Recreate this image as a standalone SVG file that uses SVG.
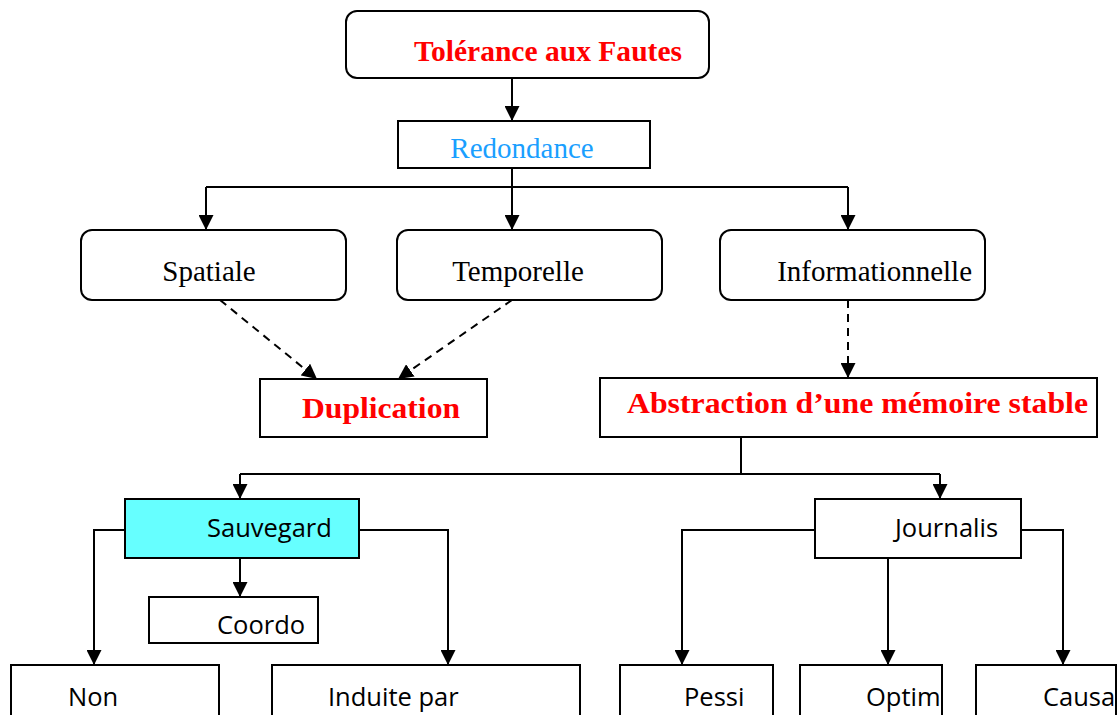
<svg xmlns="http://www.w3.org/2000/svg" width="1118" height="715" viewBox="0 0 1118 715">
  <style>
    .box { fill: #ffffff; stroke: #000000; stroke-width: 2; }
    .cyan { fill: #66ffff; stroke: #000000; stroke-width: 2; }
    .serif { font-family: "Liberation Serif", "Times New Roman", serif; font-size: 29px; }
    .sans { font-family: "Open Sans", "Liberation Sans", sans-serif; font-size: 25.5px; }
    .title { font-weight: bold; fill: #ff0000; }
    .edge { fill: none; stroke: #000000; stroke-width: 2; }
    .dash { stroke-dasharray: 8 6; }
  </style>
  <defs>
    <marker id="arrow" viewBox="0 0 10 10" refX="10" refY="5" markerWidth="7.5" markerHeight="7.5" markerUnits="strokeWidth" orient="auto">
      <path d="M0,0 L10,5 L0,10 Z" fill="#000000"/>
    </marker>
  </defs>
  <rect width="1118" height="715" fill="#ffffff"/>

  <!-- connectors -->
  <g id="connectors">
    <path class="edge" d="M512,78 V121" marker-end="url(#arrow)"/>
    <path class="edge" d="M512,168 V187"/>
    <path class="edge" d="M206,187 H848"/>
    <path class="edge" d="M206,187 V230" marker-end="url(#arrow)"/>
    <path class="edge" d="M512,187 V230" marker-end="url(#arrow)"/>
    <path class="edge" d="M848,187 V230" marker-end="url(#arrow)"/>
    <path class="edge dash" d="M220,300 L317,379" marker-end="url(#arrow)"/>
    <path class="edge dash" d="M512,300 L398,379" marker-end="url(#arrow)"/>
    <path class="edge dash" d="M848,300 V378" marker-end="url(#arrow)"/>
    <path class="edge" d="M741,437 V474"/>
    <path class="edge" d="M240,474 H940"/>
    <path class="edge" d="M240,474 V499" marker-end="url(#arrow)"/>
    <path class="edge" d="M940,474 V499" marker-end="url(#arrow)"/>
    <path class="edge" d="M125,530 H94 V665" marker-end="url(#arrow)"/>
    <path class="edge" d="M240,558 V597" marker-end="url(#arrow)"/>
    <path class="edge" d="M359,530 H448 V665" marker-end="url(#arrow)"/>
    <path class="edge" d="M815,530 H682 V665" marker-end="url(#arrow)"/>
    <path class="edge" d="M888,558 V665" marker-end="url(#arrow)"/>
    <path class="edge" d="M1021,530 H1063 V665" marker-end="url(#arrow)"/>
  </g>

  <g id="tolerance">
    <rect class="box" x="346" y="11" width="363" height="67" rx="11"/>
    <text class="serif title" x="414" y="61" font-size="30" textLength="268" lengthAdjust="spacingAndGlyphs">Tolérance aux Fautes</text>
  </g>
  <g id="redondance">
    <rect class="box" x="398" y="121" width="252" height="47"/>
    <text class="serif" x="522" y="158" fill="#1a9fff" text-anchor="middle">Redondance</text>
  </g>
  <g id="spatiale">
    <rect class="box" x="81" y="230" width="265" height="70" rx="11"/>
    <text class="serif" x="209" y="281" text-anchor="middle">Spatiale</text>
  </g>
  <g id="temporelle">
    <rect class="box" x="397" y="230" width="265" height="70" rx="11"/>
    <text class="serif" x="518" y="281" text-anchor="middle">Temporelle</text>
  </g>
  <g id="informationnelle">
    <rect class="box" x="720" y="230" width="265" height="70" rx="11"/>
    <text class="serif" x="972" y="281" text-anchor="end">Informationnelle</text>
  </g>
  <g id="duplication">
    <rect class="box" x="260" y="379" width="227" height="58"/>
    <text class="serif title" x="302" y="418" font-size="31" textLength="158" lengthAdjust="spacingAndGlyphs">Duplication</text>
  </g>
  <g id="abstraction">
    <rect class="box" x="600" y="378" width="497" height="59"/>
    <text class="serif title" x="627" y="413" font-size="31" textLength="461" lengthAdjust="spacingAndGlyphs">Abstraction d’une mémoire stable</text>
  </g>
  <g id="sauvegard">
    <rect class="cyan" x="125" y="499" width="234" height="59"/>
    <text class="sans" x="207" y="537">Sauvegard</text>
  </g>
  <g id="coordo">
    <rect class="box" x="149" y="597" width="169" height="46"/>
    <text class="sans" x="217" y="634">Coordo</text>
  </g>
  <g id="non">
    <rect class="box" x="11" y="665" width="208" height="52"/>
    <text class="sans" x="68" y="706">Non</text>
  </g>
  <g id="induite">
    <rect class="box" x="272" y="665" width="308" height="52"/>
    <text class="sans" x="328" y="706">Induite par</text>
  </g>
  <g id="journalis">
    <rect class="box" x="815" y="499" width="206" height="59"/>
    <text class="sans" x="895" y="537">Journalis</text>
  </g>
  <g id="pessi">
    <rect class="box" x="620" y="665" width="153" height="52"/>
    <text class="sans" x="684" y="706">Pessi</text>
  </g>
  <g id="optim">
    <rect class="box" x="800" y="665" width="142" height="52"/>
    <text class="sans" x="866" y="706">Optim</text>
  </g>
  <g id="causa">
    <rect class="box" x="976" y="665" width="140" height="52"/>
    <text class="sans" x="1043" y="706">Causa</text>
  </g>
</svg>
